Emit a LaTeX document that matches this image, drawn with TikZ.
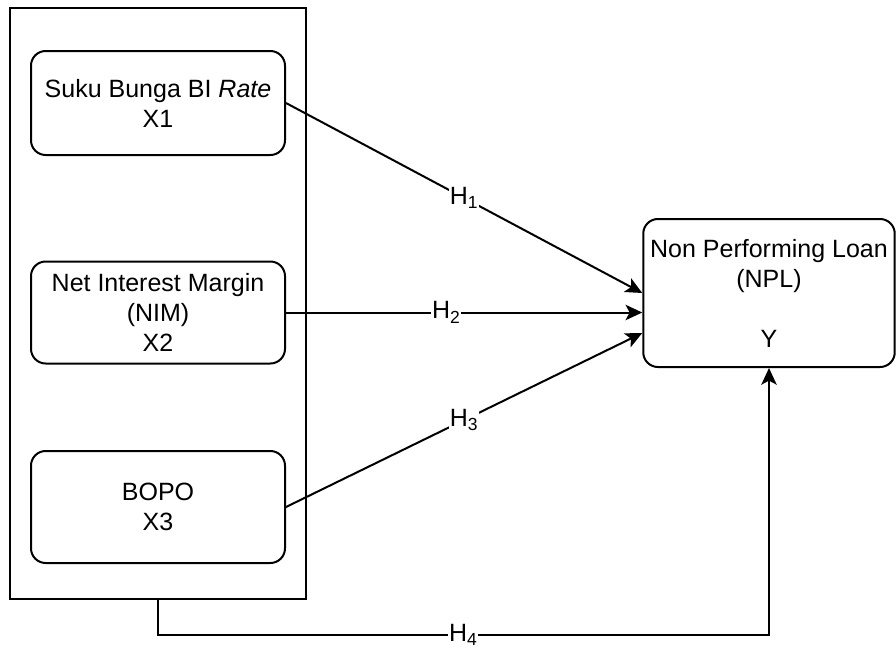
\documentclass[tikz,border=0pt]{standalone}
\usepackage{fontspec}
\setmainfont{Liberation Sans}
\usepackage{tikz}
\usetikzlibrary{arrows.meta,positioning,calc}

\begin{document}
\begin{tikzpicture}[
    x=0.75pt, y=-0.75pt,
    line width=1.5pt,
    every node/.style={font=\fontsize{18.75}{22.5}\selectfont, align=center},
    varbox/.style={draw, rounded corners=11pt, minimum width=190.5pt, inner sep=0pt},
    groupbox/.style={draw, minimum width=222pt, minimum height=443pt},
    hyp/.style={-{Stealth[length=12.5pt, width=11.5pt, inset=3pt]}},
    hlabel/.style={fill=white, inner sep=0.5pt}
]
\useasboundingbox (0,0) rectangle (896,650);

% independent variables inside one frame
\node[groupbox] (grp) at (157.5,303.75) {};
\node[varbox, minimum height=78pt] (x1) at (158,103) {Suku Bunga BI \textit{Rate}\\X1};
\node[varbox, minimum height=76.5pt] (x2) at (158,312.5) {Net Interest Margin\\(NIM)\\X2};
\node[varbox, minimum height=84pt] (x3) at (158,507) {BOPO\\X3};

% dependent variable
\node[varbox, minimum width=188.6pt, minimum height=111pt] (npl) at (769,293)
    {Non Performing Loan\\(NPL)\\[22.5pt]Y};

% hypotheses
\draw[hyp] (x1.east) -- node[hlabel, pos=0.5] {H\textsubscript{1}} (npl.west);
\draw[hyp] (x2.east) -- node[hlabel, pos=0.45] {H\textsubscript{2}} (x2.east -| npl.west);
\draw[hyp] (x3.east) -- node[hlabel, pos=0.5] {H\textsubscript{3}} ($(npl.west)+(0,40)$);
\draw[hyp] (grp.south) -- ++(0,35) -| node[hlabel, pos=0.25] {H\textsubscript{4}} (npl.south);
\end{tikzpicture}
\end{document}
